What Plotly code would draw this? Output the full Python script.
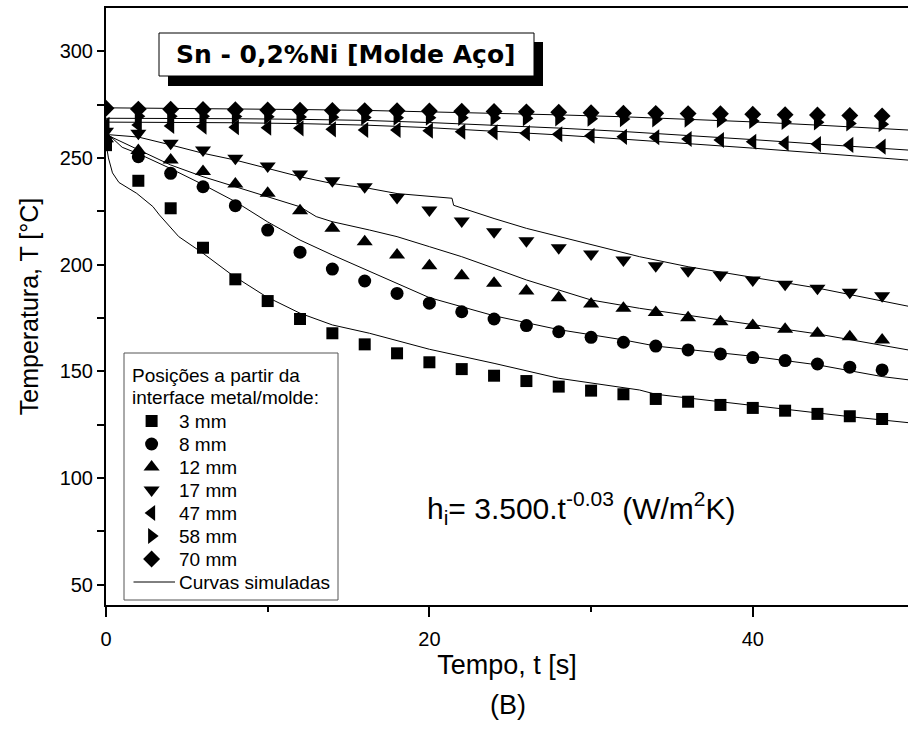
import plotly.graph_objects as go

# ---------------- data ----------------
t_exp = [0, 2, 4, 6, 8, 10, 12, 14, 16, 18, 20, 22, 24, 26, 28, 30, 32, 34, 36, 38, 40, 42, 44, 46, 48]

T_3mm = [256, 239.3, 226.4, 207.9, 193.1, 182.9, 174.5, 167.8, 162.6, 158.4, 154.2, 151.0, 147.9,
         145.4, 142.8, 140.9, 139.2, 137.0, 135.7, 134.2, 132.8, 131.5, 130.0, 128.9, 127.6]
T_8mm = [258, 250.6, 242.8, 236.5, 227.6, 216.2, 205.8, 197.9, 192.3, 186.5, 181.9, 177.9, 174.5,
         171.4, 168.5, 165.9, 163.6, 161.8, 160.0, 158.1, 156.4, 155.0, 153.4, 151.9, 150.6]
T_12mm = [259, 253.5, 249.0, 243.6, 237.8, 233.4, 225.3, 217.0, 210.7, 204.5, 199.5, 194.8, 191.2,
          187.6, 184.5, 181.5, 179.5, 177.5, 175.1, 173.2, 171.4, 169.7, 167.8, 166.2, 164.7]
T_17mm = [262.5, 261.6, 256.9, 253.7, 249.8, 246.2, 242.5, 239.3, 236.5, 231.5, 225.6, 220.4, 215.4,
          211.2, 207.9, 205.0, 202.2, 199.5, 197.1, 195.1, 192.8, 190.8, 188.9, 187.0, 185.4]
T_47mm = [265.5, 265.4, 265.0, 264.7, 264.4, 264.2, 263.9, 263.4, 263.1, 263.1, 262.8, 262.3, 262.0,
          261.6, 261.1, 260.4, 259.9, 259.7, 258.9, 258.4, 257.6, 256.9, 256.5, 256.1, 255.3]
T_58mm = [273.5, 269.6, 269.5, 269.5, 269.4, 269.3, 269.2, 269.1, 269.0, 268.9, 268.9, 268.8, 268.7,
          268.6, 268.5, 268.4, 268.2, 268.1, 268.0, 267.8, 267.3, 266.9, 266.7, 266.2, 265.8]
T_70mm = [273.3, 272.9, 272.8, 272.7, 272.6, 272.5, 272.4, 272.3, 272.2, 272.1, 272.0, 271.9, 271.8,
          271.6, 271.4, 271.2, 271.0, 270.9, 270.8, 270.7, 270.5, 270.3, 270.1, 269.9, 269.7]

# simulated curves
ts_3mm = [0, 0.15, 0.4, 0.8, 1.9, 2.9, 3.3, 4.5, 6, 7.8, 9.9, 12, 14, 16.3, 20, 24, 28, 33, 34, 38, 42, 46, 49.6]
Ts_3mm = [257, 250, 243, 238.5, 233.4, 227.2, 223.3, 213.1, 205.3, 195.1, 185, 177.2, 171.7, 167.8, 160.3,
          153.7, 146.7, 141.2, 139.2, 135.7, 132.0, 128.7, 125.9]
ts_8mm = [0, 1, 2, 4, 6, 8, 10, 12, 14, 16.3, 20, 24, 28, 32, 34, 40, 44, 48, 49.6]
Ts_8mm = [262, 255, 252, 245, 237.5, 229.5, 220, 211.5, 204.5, 196.7, 184.5, 176, 169.5, 164.7, 161.8,
          157, 153, 147.5, 146]
ts_12mm = [0, 2, 4, 6, 8, 10, 12, 13, 14, 16.3, 18, 20, 22, 24, 26, 28, 30, 33, 40, 44, 49.6]
Ts_12mm = [261, 254, 246.7, 241.2, 236.5, 231.8, 227.1, 222.5, 220.1, 216.2, 213.1, 208.4, 203.7, 198.3,
           192.8, 188.1, 183.4, 179.5, 172, 167.5, 160]
ts_17mm = [0, 2, 4, 6, 8, 10, 12, 14, 16.3, 18, 20, 21.4, 21.5, 22, 24, 26, 28, 30, 33, 36, 40, 44, 49.6]
Ts_17mm = [261, 259.8, 256.1, 252.2, 249, 245.1, 241.2, 238, 235.7, 233.3, 231.8, 231.1, 227.8, 226.5,
           221.6, 217, 213.1, 209.2, 203.7, 199, 194, 189, 180.5]
ts_top = [0, 4, 8, 12, 16, 20, 24, 28, 32, 36, 40, 44, 49.6]
Ts_47mm = [266.8, 266.7, 266.5, 266.1, 265.4, 264.2, 262.6, 260.8, 258.8, 256.8, 254.6, 252.3, 249.0]
Ts_58mm = [268.6, 268.6, 268.4, 268.1, 267.6, 266.6, 265.4, 264.0, 262.4, 260.6, 258.6, 256.5, 253.7]
Ts_70mm = [273.5, 273.3, 273.0, 272.7, 272.3, 271.7, 271.0, 270.2, 269.3, 268.2, 266.9, 265.4, 263.1]

labels = ["3 mm", "8 mm", "12 mm", "17 mm", "47 mm", "58 mm", "70 mm"]
symbols = ["square", "circle", "triangle-up", "triangle-down", "triangle-left", "triangle-right", "diamond"]
sizes = [12, 13, 14, 14, 14, 14, 13]
exp_series = [T_3mm, T_8mm, T_12mm, T_17mm, T_47mm, T_58mm, T_70mm]
sim_series = [(ts_3mm, Ts_3mm), (ts_8mm, Ts_8mm), (ts_12mm, Ts_12mm), (ts_17mm, Ts_17mm),
              (ts_top, Ts_47mm), (ts_top, Ts_58mm), (ts_top, Ts_70mm)]
legend_title = ["Posições a partir da", "interface metal/molde:"]
sim_label = "Curvas simuladas"

# ---------------- layout geometry (pixels) ----------------
W, H = 908, 748
L, R, TOP, BOT = 106, 908, 8, 605
PW, PH = R - L, BOT - TOP


def px(x):
    return (x - L) / PW


def py(y):
    return (BOT - y) / PH


FONT = "Liberation Sans, Arial, sans-serif"

fig = go.Figure()

for ts, Ts in sim_series:
    fig.add_trace(go.Scatter(x=ts, y=Ts, mode="lines", line=dict(color="black", width=1),
                             name=sim_label, showlegend=False, hoverinfo="skip"))

for lab, sym, sz, ys in zip(labels, symbols, sizes, exp_series):
    fig.add_trace(go.Scatter(x=t_exp, y=ys, mode="markers", name=lab, showlegend=False,
                             marker=dict(symbol=sym, size=sz, color="black", line=dict(width=0))))

# ---------------- hand-placed legend (pixel overlay axes) ----------------
LEG_X0, LEG_X1, LEG_Y0, LEG_Y1 = 124, 338, 353, 600
LEG_ROW0, LEG_DY = 375, 23.0
SYM_X, TXT_X = 151.6, 177

fig.add_shape(type="rect", xref="paper", yref="paper",
              x0=px(LEG_X0), x1=px(LEG_X1), y0=py(LEG_Y1), y1=py(LEG_Y0),
              fillcolor="white", line=dict(color="#555555", width=1), layer="below")

for k, line_txt in enumerate(legend_title):
    fig.add_annotation(x=px(130), y=py(LEG_ROW0 + k * LEG_DY), xref="paper", yref="paper",
                       text=line_txt, showarrow=False, xanchor="left", yanchor="middle",
                       font=dict(family=FONT, size=19, color="black"))

row_y = [LEG_ROW0 + (k + 2) * LEG_DY for k in range(len(labels) + 1)]
for k, lab in enumerate(labels + [sim_label]):
    fig.add_annotation(x=px(TXT_X), y=py(row_y[k]), xref="paper", yref="paper",
                       text=lab, showarrow=False, xanchor="left", yanchor="middle",
                       font=dict(family=FONT, size=19, color="black"))

for k, (sym, sz) in enumerate(zip(symbols, sizes)):
    fig.add_trace(go.Scatter(x=[SYM_X], y=[row_y[k]], xaxis="x2", yaxis="y2", mode="markers",
                             marker=dict(symbol=sym, size=sz, color="black", line=dict(width=0)),
                             showlegend=False, hoverinfo="skip", cliponaxis=False))
fig.add_shape(type="line", xref="paper", yref="paper",
              x0=px(133.5), x1=px(175), y0=py(row_y[-1]), y1=py(row_y[-1]),
              line=dict(color="black", width=1), layer="above")

fig.update_layout(
    width=W, height=H,
    margin=dict(l=L, r=W - R, t=TOP, b=H - BOT, pad=0),
    paper_bgcolor="white", plot_bgcolor="white",
    font=dict(family=FONT, size=20, color="black"),
    showlegend=False,
    xaxis=dict(
        range=[0, 49.6], showgrid=False, zeroline=False,
        showline=True, linecolor="black", linewidth=2, mirror=True,
        ticks="outside", tickcolor="black", tickwidth=2, ticklen=10,
        tick0=0, dtick=20, ticklabelstandoff=5,
        minor=dict(ticks="outside", dtick=10, ticklen=5, tickwidth=2, tickcolor="black"),
        tickfont=dict(family=FONT, size=20),
        title=dict(text="Tempo, t [s]", font=dict(family=FONT, size=27), standoff=4),
    ),
    yaxis=dict(
        range=[40.4, 320.3], showgrid=False, zeroline=False,
        showline=True, linecolor="black", linewidth=2,
        ticks="outside", tickcolor="black", tickwidth=2, ticklen=7,
        tick0=0, dtick=50,
        minor=dict(ticks="outside", dtick=25, ticklen=7, tickwidth=2, tickcolor="black"),
        tickfont=dict(family=FONT, size=20),
        title=dict(text="Temperatura, T [°C]", font=dict(family=FONT, size=25), standoff=14),
    ),
    xaxis2=dict(overlaying="x", range=[L, R], visible=False, fixedrange=True),
    yaxis2=dict(overlaying="y", range=[BOT, TOP], visible=False, fixedrange=True),
)

# title box with shadow
fig.add_shape(type="rect", xref="paper", yref="paper",
              x0=px(168), x1=px(543), y0=py(86), y1=py(42),
              fillcolor="black", line=dict(width=0), layer="above")
fig.add_shape(type="rect", xref="paper", yref="paper",
              x0=px(159), x1=px(534), y0=py(76), y1=py(33),
              fillcolor="white", line=dict(color="black", width=1), layer="above")
fig.add_annotation(x=px(346), y=py(55), xref="paper", yref="paper",
                   text="<b>Sn - 0,2%Ni [Molde Aço]</b>", showarrow=False,
                   xanchor="center", yanchor="middle",
                   font=dict(family="DejaVu Sans", size=25, color="black"))

fig.add_annotation(x=px(581), y=py(508), xref="paper", yref="paper",
                   text="h<sub>i</sub>= 3.500.t<sup>-0.03</sup> (W/m<sup>2</sup>K)", showarrow=False,
                   xanchor="center", yanchor="middle",
                   font=dict(family=FONT, size=30, color="black"))

fig.add_annotation(x=px(508), y=py(705), xref="paper", yref="paper",
                   text="(B)", showarrow=False, xanchor="center", yanchor="middle",
                   font=dict(family=FONT, size=27, color="black"))

fig.write_html("out.html")
